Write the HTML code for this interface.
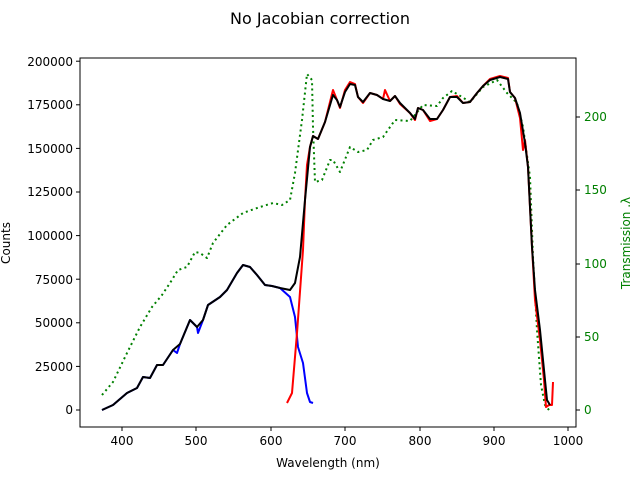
<!DOCTYPE html>
<html><head><style>body{margin:0;background:#fff}svg{display:block;font-family:"DejaVu Sans","Liberation Sans",sans-serif}</style></head><body>
<svg width="640" height="480" xmlns="http://www.w3.org/2000/svg">
<rect width="640" height="480" fill="#fff"/>
<text x="320" y="24" font-size="16" text-anchor="middle">No Jacobian correction</text>
<g fill="none" stroke-linejoin="round">
<polyline stroke="#008000" stroke-width="2" stroke-dasharray="2,3.3" points="102,395 113,382 127,353 140,327 152,307 162,295 170,283 178,270 187,267 195,252 200,253 207,258 213,243 227,225 243,213 260,207 273,203 282,205 290,200 295,173 302,120 307,74 312,80 313,127 315,182 322,180 330,160 333,160 340,172 350,147 358,152 367,150 373,140 383,137 395,120 410,121 423,105 437,106 443,98 452,91 462,97 470,102 483,87 497,80 507,93 517,103 523,127 530,177 533,257 537,330 541,385 545,405 549,410"/>
<polyline stroke="#0000ff" stroke-width="2" points="102,410 113,405 127,393 137,388 143,377 150,378 157,365 163,365 173,350 177,353 180,344 190,320 197,327 198,333 203,320 208,305 220,297 227,290 237,273 243,265 250,267 257,275 265,285 272,286 280,288 290,297 295,317 298,347 303,363 307,393 310,402 313,403"/>
<polyline stroke="#ff0000" stroke-width="2" points="287,403 292,393 297,333 303,250 305,200 307,165 310,147 313,136 318,139 325,122 333,90 337,100 340,108 345,90 350,82 355,84 358,97 363,103 370,93 377,95 383,99 385,90 390,101 395,96 400,104 410,113 415,120 418,108 423,110 430,121 437,119 443,110 450,97 457,96 463,103 470,102 477,93 483,86 490,79 500,76 508,78 510,92 515,98 520,118 523,150 525,140 528,167 532,247 535,300 540,340 544,380 546,407 549,405 552,405 553,382"/>
<polyline stroke="#000" stroke-width="2" points="102,410 113,405 127,393 137,388 143,377 150,378 157,365 163,365 173,350 180,344 190,320 197,327 203,320 208,305 220,297 227,290 237,273 243,265 250,267 257,275 265,285 272,286 280,288 290,290 295,283 300,257 305,200 310,147 313,136 318,139 325,122 333,95 337,100 340,107 345,92 350,84 355,85 358,97 363,102 370,93 377,95 383,99 390,101 395,96 400,103 410,113 415,119 418,108 423,110 430,119 437,119 443,110 450,97 457,97 463,103 470,102 477,93 483,86 490,80 500,77 508,79 510,92 515,98 520,113 525,143 528,167 532,247 535,290 540,330 544,370 547,400 550,405"/>
</g>
<rect x="80" y="58" width="496" height="369" fill="none" stroke="#000" stroke-width="1"/>
<g stroke="#000">
<line x1="80" x2="76" y1="410" y2="410"/><line x1="80" x2="76" y1="366.4" y2="366.4"/><line x1="80" x2="76" y1="322.8" y2="322.8"/><line x1="80" x2="76" y1="279.2" y2="279.2"/><line x1="80" x2="76" y1="235.6" y2="235.6"/><line x1="80" x2="76" y1="192" y2="192"/><line x1="80" x2="76" y1="148.4" y2="148.4"/><line x1="80" x2="76" y1="104.8" y2="104.8"/><line x1="80" x2="76" y1="61.2" y2="61.2"/>
<line x1="122" x2="122" y1="427" y2="431"/><line x1="196" x2="196" y1="427" y2="431"/><line x1="271" x2="271" y1="427" y2="431"/><line x1="345" x2="345" y1="427" y2="431"/><line x1="420" x2="420" y1="427" y2="431"/><line x1="494" x2="494" y1="427" y2="431"/><line x1="568" x2="568" y1="427" y2="431"/>
<line x1="576" x2="580" y1="410" y2="410"/><line x1="576" x2="580" y1="337" y2="337"/><line x1="576" x2="580" y1="264" y2="264"/><line x1="576" x2="580" y1="190" y2="190"/><line x1="576" x2="580" y1="117" y2="117"/>
</g>
<g font-size="12" text-anchor="end">
<text x="73" y="414">0</text><text x="73" y="371">25000</text><text x="73" y="327">50000</text><text x="73" y="284">75000</text><text x="73" y="240">100000</text><text x="73" y="196">125000</text><text x="73" y="153">150000</text><text x="73" y="109">175000</text><text x="73" y="66">200000</text>
</g>
<g font-size="12" text-anchor="middle">
<text x="122" y="445">400</text><text x="196" y="445">500</text><text x="271" y="445">600</text><text x="345" y="445">700</text><text x="420" y="445">800</text><text x="494" y="445">900</text><text x="568" y="445">1000</text>
<text x="328" y="467">Wavelength (nm)</text>
<text transform="translate(10,243) rotate(-90)">Counts</text>
</g>
<g font-size="12" fill="#008000">
<text x="584" y="414">0</text><text x="584" y="341">50</text><text x="584" y="268">100</text><text x="584" y="194">150</text><text x="584" y="121">200</text>
<text transform="translate(630,243) rotate(-90)" text-anchor="middle">Transmission .λ</text>
</g>
</svg>
</body></html>
